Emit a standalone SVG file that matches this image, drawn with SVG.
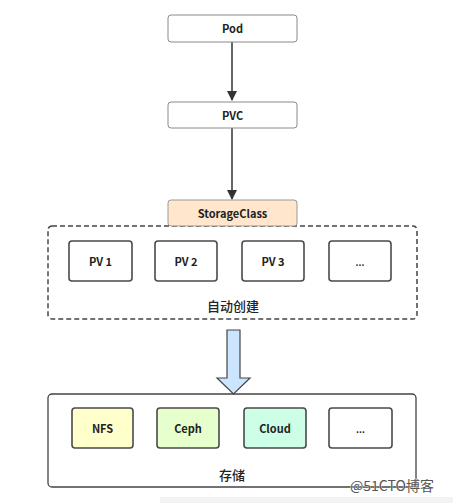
<svg xmlns="http://www.w3.org/2000/svg" width="453" height="503" viewBox="0 0 453 503">
<defs>
<style>
text{font-family:"Noto Sans CJK SC","Liberation Sans",sans-serif;font-size:11px;fill:#222;text-anchor:middle;dominant-baseline:central;font-weight:bold}
.top{fill:#fff;stroke:#8a8a8a;stroke-width:1}
.pv{fill:#fff;stroke:#4a4a4a;stroke-width:1.6}
.cjk{font-size:13px;font-weight:500}
.dots{font-size:9px}
.con{stroke:#333;stroke-width:1.5;fill:none}
</style>
<marker id="ah" markerWidth="10" markerHeight="12" refX="9" refY="5" orient="auto" markerUnits="userSpaceOnUse" viewBox="0 0 10 10">
<path d="M0,0 L10,5 L0,10 Z" fill="#333"/>
</marker>
</defs>
<rect x="0" y="0" width="453" height="503" fill="#fff"/>
<rect x="160" y="497" width="293" height="6" fill="#f3f3f3"/>
<g id="connectors">
<line class="con" x1="232" y1="42" x2="232" y2="100" marker-end="url(#ah)"/>
<line class="con" x1="232" y1="128" x2="232" y2="199" marker-end="url(#ah)"/>
<path d="M227,330 L240,330 L240,378 L250,378 L233.5,394 L217,378 L227,378 Z" fill="#cce5ff" stroke="#444" stroke-width="1.2"/>
</g>
<g id="pod"><rect class="top" x="168" y="15" width="129" height="27" rx="3"/><text x="232.5" y="27.5">Pod</text></g>
<g id="pvc"><rect class="top" x="168" y="102" width="129" height="26" rx="3"/><text x="232.5" y="114.5">PVC</text></g>
<g id="auto"><rect x="48" y="226" width="369" height="93" rx="4" fill="none" stroke="#444" stroke-width="1.5" stroke-dasharray="5,3"/><text class="cjk" x="233" y="305">自动创建</text></g>
<g id="storageclass"><rect x="168" y="200" width="129" height="26" rx="3" fill="#ffe6cc" stroke="#999" stroke-width="1"/><text x="232.5" y="212.5">StorageClass</text></g>
<g id="pv1"><rect class="pv" x="69" y="241" width="63" height="40" rx="3"/><text x="100.5" y="260.5">PV 1</text></g>
<g id="pv2"><rect class="pv" x="155" y="241" width="62" height="40" rx="3"/><text x="186" y="260.5">PV 2</text></g>
<g id="pv3"><rect class="pv" x="242" y="241" width="62" height="40" rx="3"/><text x="273" y="260.5">PV 3</text></g>
<g id="pvmore"><rect class="pv" x="329" y="241" width="62" height="40" rx="3"/><text class="dots" x="360" y="262">...</text></g>
<g id="storage"><rect x="48" y="394" width="368" height="93" rx="4" fill="none" stroke="#444" stroke-width="1.3"/><text class="cjk" x="232" y="474">存储</text></g>
<g id="nfs"><rect class="pv" x="72" y="408" width="61" height="40" rx="3" style="fill:#ffffcc"/><text x="102.5" y="428">NFS</text></g>
<g id="ceph"><rect class="pv" x="157" y="408" width="62" height="40" rx="3" style="fill:#e6ffcc"/><text x="188" y="428">Ceph</text></g>
<g id="cloud"><rect class="pv" x="244" y="408" width="62" height="40" rx="3" style="fill:#ccffe6"/><text x="275" y="428">Cloud</text></g>
<g id="storemore"><rect class="pv" x="329" y="408" width="63" height="40" rx="3"/><text class="dots" x="360.5" y="429">...</text></g>
<text x="392" y="485" style="font-size:14px;font-weight:normal;fill:#555;stroke:#fff;stroke-width:0.6;paint-order:stroke">@51CTO博客</text>
</svg>
